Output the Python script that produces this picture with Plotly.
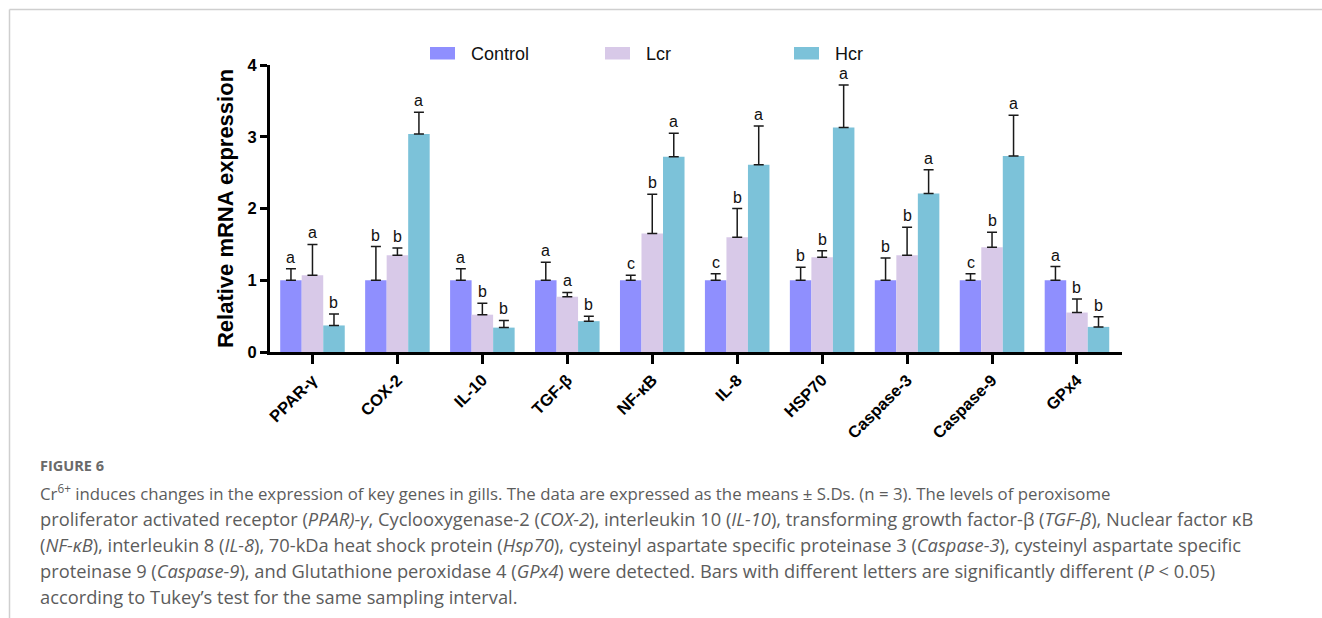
import plotly.graph_objects as go

# ---- data -------------------------------------------------------------
genes = ["PPAR-γ", "COX-2", "IL-10", "TGF-β", "NF-κB", "IL-8", "HSP70",
         "Caspase-3", "Caspase-9", "GPx4"]
groups = ["Control", "Lcr", "Hcr"]

control_mean = [1.00, 1.00, 1.00, 1.00, 1.00, 1.00, 1.00, 1.00, 1.00, 1.00]
control_sd = [0.16, 0.47, 0.16, 0.25, 0.07, 0.09, 0.18, 0.31, 0.09, 0.19]
control_sig = ["a", "b", "a", "a", "c", "c", "b", "b", "c", "a"]

lcr_mean = [1.07, 1.35, 0.52, 0.77, 1.65, 1.60, 1.32, 1.35, 1.46, 0.55]
lcr_sd = [0.43, 0.10, 0.16, 0.06, 0.55, 0.40, 0.09, 0.39, 0.21, 0.19]
lcr_sig = ["a", "b", "b", "a", "b", "b", "b", "b", "b", "b"]

hcr_mean = [0.37, 3.04, 0.34, 0.43, 2.72, 2.61, 3.13, 2.21, 2.73, 0.35]
hcr_sd = [0.16, 0.30, 0.10, 0.07, 0.33, 0.54, 0.59, 0.33, 0.57, 0.14]
hcr_sig = ["b", "a", "b", "b", "a", "a", "a", "a", "a", "b"]

y_ticks = [0, 1, 2, 3, 4]

caption_title = "FIGURE 6"
caption_lines = [
    "Cr<sup>6+</sup> induces changes in the expression of key genes in gills. "
    "The data are expressed as the means ± S.Ds. (n = 3). The levels of peroxisome",
    "proliferator activated receptor (<i>PPAR)-γ</i>, Cyclooxygenase-2 (<i>COX-2</i>), "
    "interleukin 10 (<i>IL-10</i>), transforming growth factor-β (<i>TGF-β</i>), Nuclear factor κB",
    "(<i>NF-κB</i>), interleukin 8 (<i>IL-8</i>), 70-kDa heat shock protein (<i>Hsp70</i>), "
    "cysteinyl aspartate specific proteinase 3 (<i>Caspase-3</i>), cysteinyl aspartate specific",
    "proteinase 9 (<i>Caspase-9</i>), and Glutathione peroxidase 4 (<i>GPx4</i>) were detected. "
    "Bars with different letters are significantly different (<i>P</i> &lt; 0.05)",
    "according to Tukey’s test for the same sampling interval.",
]
caption_sizes = [16.8, 18.3, 18.3, 18.3, 18.3]

# ---- styling ------------------------------------------------------------
colors = ["#8F8FFE", "#D8C9E8", "#7CC2D9"]
W, H = 1322, 618
L, R, T, B = 270, 200, 65, 266
plot_w, plot_h = W - L - R, H - T - B
bar_w = 0.2533
AX = "Arial, Liberation Sans, sans-serif"


def px_x(px):
    return (px - L) / plot_w


def px_y(py):
    return (H - B - py) / plot_h


means = [control_mean, lcr_mean, hcr_mean]
sds = [control_sd, lcr_sd, hcr_sd]
sigs = [control_sig, lcr_sig, hcr_sig]

fig = go.Figure()
annotations = []
for k, name in enumerate(groups):
    xs = [i + (k - 1) * bar_w for i in range(len(genes))]
    fig.add_trace(go.Bar(
        x=xs, y=means[k], width=bar_w, name=name,
        marker=dict(color=colors[k], line=dict(width=0)),
        error_y=dict(type="data", symmetric=False, array=sds[k],
                     arrayminus=[0] * len(genes), color="#1a1a1a",
                     thickness=1.5, width=5),
        showlegend=False,
    ))
    for x, m, s, letter in zip(xs, means[k], sds[k], sigs[k]):
        annotations.append(dict(
            x=x, y=m + s, xref="x", yref="y", text=letter, showarrow=False,
            yanchor="bottom", yshift=1, font=dict(family=AX, size=16, color="#111"),
        ))

# legend row drawn above the plot
legend_items = [(430, 469), (605, 644), (794, 833)]
shapes = []
for k, (sx, tx) in enumerate(legend_items):
    shapes.append(dict(type="rect", xref="paper", yref="paper",
                       x0=px_x(sx), x1=px_x(sx + 25), y0=px_y(59.5), y1=px_y(47),
                       fillcolor=colors[k], line=dict(width=0)))
    annotations.append(dict(x=px_x(tx), y=px_y(53.5), xref="paper", yref="paper",
                            text=groups[k], showarrow=False, xanchor="left",
                            yanchor="middle",
                            font=dict(family=AX, size=18, color="#111")))

# page frame lines
frame = "#cfcfcf"
shapes.append(dict(type="line", xref="paper", yref="paper", x0=px_x(9.5), x1=px_x(W),
                   y0=px_y(9.5), y1=px_y(9.5), line=dict(color=frame, width=1.5)))
shapes.append(dict(type="line", xref="paper", yref="paper", x0=px_x(9.5), x1=px_x(9.5),
                   y0=px_y(9.5), y1=px_y(H), line=dict(color=frame, width=1.5)))

# caption
CAP = "Open Sans, Lato, sans-serif"
annotations.append(dict(x=px_x(38), y=px_y(465), xref="paper", yref="paper",
                        text="<b>" + caption_title + "</b>", showarrow=False,
                        xanchor="left", yanchor="middle",
                        font=dict(family=CAP, size=14.5, color="#6a6a6a")))
for j, line in enumerate(caption_lines):
    annotations.append(dict(x=px_x(38), y=px_y(492 + 26 * j), xref="paper", yref="paper",
                            text=line, showarrow=False, xanchor="left", yanchor="middle",
                            font=dict(family=CAP, size=caption_sizes[j], color="#5c5c5c")))

fig.update_layout(
    width=W, height=H,
    margin=dict(l=L, r=R, t=T, b=B, pad=0),
    paper_bgcolor="white", plot_bgcolor="white",
    barmode="overlay",
    shapes=shapes, annotations=annotations,
    xaxis=dict(range=[-0.5, 9.53], tickvals=list(range(len(genes))), ticktext=genes,
               tickangle=-45, ticks="outside", ticklen=9, tickwidth=3, tickcolor="black",
               showline=True, linewidth=3, linecolor="black", showgrid=False,
               zeroline=False,
               tickfont=dict(family=AX, size=16.5, color="black", weight="bold")),
    yaxis=dict(range=[0, 4], tickvals=y_ticks, ticks="outside", ticklen=7, tickwidth=3,
               tickcolor="black", showline=True, linewidth=3, linecolor="black",
               showgrid=False, zeroline=False,
               tickfont=dict(family=AX, size=16.5, color="black", weight="bold"),
               title=dict(text="<b>Relative mRNA expression</b>", standoff=8,
                          font=dict(family=AX, size=22, color="black"))),
)

fig.write_html("out.html")
